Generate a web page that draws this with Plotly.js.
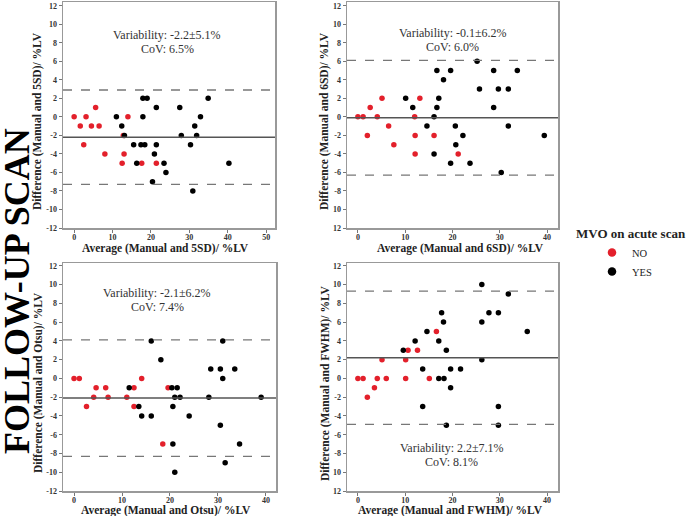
<!DOCTYPE html>
<html>
<head>
<meta charset="utf-8">
<script src="https://cdn.plot.ly/plotly-3.0.1.min.js"></script>
<style>
  body { margin: 0; background: #fff; }
  #chart { width: 688px; height: 516px; }
</style>
</head>
<body>
<div id="chart"></div>
<script>
// Bland-Altman points: red = MVO "NO", black = MVO "YES"
const sd5NoX  = [0, 1.6, 2.5, 3.1, 4.5, 5.6, 6.5, 8.0, 12.5, 12.8, 13.0, 14.0, 17.6, 21.4];
const sd5NoY  = [0, -1, -3, 0, -1, 1, -1, -4, -5, -2, -4, 0, -5, -5];
const sd5YesX = [11.0, 12.4, 13.1, 15.5, 16.3, 17.4, 17.9, 17.9, 18.4, 19.0, 21.4, 20.9, 21.4, 20.4, 23.4, 23.9, 27.5, 27.9, 30.3, 30.9, 31.4, 31.9, 32.9, 34.9, 40.3];
const sd5YesY = [0, -1, -2, -3, -5, -3, 2, 0, -3, 2, 1, -4, -3, -7, -5, -6, 1, -2, -3, -8, -1, -2, 0, 2, -5];

const sd6NoX  = [0, 1.1, 2.0, 2.6, 4.1, 5.1, 6.5, 7.6, 12.0, 12.1, 12.1, 13.1, 16.1, 21.2];
const sd6NoY  = [0, 0, -2, 1, 0, 2, -1, -3, 0, -2, -4, 2, -2, -4];
const sd6YesX = [10.1, 11.6, 14.6, 16.1, 16.1, 16.7, 16.7, 17.1, 18.1, 19.6, 19.6, 20.6, 20.7, 22.2, 23.7, 25.2, 25.7, 28.7, 28.7, 29.7, 30.3, 31.8, 31.8, 33.7, 39.4];
const sd6YesY = [2, 1, -1, 0, -4, 5, 1, 2, 4, 5, -5, -1, -3, -2, -5, 6, 3, 5, 1, 3, -6, 3, -1, 5, -2];

const otsuNoX  = [0, 1.1, 2.6, 4.1, 4.6, 6.6, 7.1, 11.0, 12.5, 12.5, 14.1, 18.5, 19.6];
const otsuNoY  = [0, 0, -3, -2, -1, -1, -2, -2, -1, -3, 0, -7, -1];
const otsuYesX = [11.5, 13.5, 14.1, 16.1, 16.1, 18.1, 20.4, 20.6, 20.6, 21.0, 21.5, 21.0, 22.1, 24.0, 28.1, 28.5, 30.5, 30.5, 31.0, 31.0, 31.5, 33.5, 34.5, 39.0];
const otsuYesY = [-1, -3, -4, 4, -4, 2, -1, -3, -7, -2, -1, -10, -2, -4, -2, 1, 1, -5, 4, 0, -9, 1, -7, -2];

const fwhmNoX  = [0, 1.1, 2.0, 3.5, 4.1, 5.1, 6.0, 10.1, 10.1, 10.6, 12.6, 15.1, 16.6];
const fwhmNoY  = [0, 0, -2, -1, 0, 2, 0, 2, 0, 3, 3, 0, 5];
const fwhmYesX = [9.6, 12.1, 13.7, 13.7, 14.6, 17.1, 17.1, 17.7, 18.1, 18.2, 18.7, 18.7, 19.6, 19.6, 21.7, 26.2, 26.2, 26.2, 27.7, 29.7, 29.7, 29.7, 31.8, 35.8];
const fwhmYesY = [3, 4, 1, -3, 5, 0, 4, 7, 6, 0, 3, -5, 1, -1, 1, 10, 6, 2, 7, 7, -3, -5, 9, 5];

// mean bias and limits of agreement per panel
const meanBias  = [-2.2, -0.1, -2.1, 2.2];
const upperLoa  = [2.9, 6.1, 4.1, 9.3];
const lowerLoa  = [-7.3, -6.3, -8.3, -4.9];
const methods   = ['5SD', '6SD', 'Otsu', 'FWHM'];
const variability = ['-2.2±5.1%', '-0.1±6.2%', '-2.1±6.2%', '2.2±7.1%'];
const cov = ['6.5%', '6.0%', '7.4%', '8.1%'];

const yTickVals = [-12, -10, -8, -6, -4, -2, 0, 2, 4, 6, 8, 10, 12];
const yTickFull = ['-12', '-10', '-8', '-6', '-4', '-2', '0', '2', '4', '6', '8', '10', '12'];
// right-hand panels lose the minus sign on the two lowest labels
const yTickCut  = ['12', '10', '-8', '-6', '-4', '-2', '0', '2', '4', '6', '8', '10', '12'];

const RED = '#e3202b';
const serif = 'Liberation Serif, DejaVu Serif, serif';

const sets = [
  [sd5NoX, sd5NoY, sd5YesX, sd5YesY],
  [sd6NoX, sd6NoY, sd6YesX, sd6YesY],
  [otsuNoX, otsuNoY, otsuYesX, otsuYesY],
  [fwhmNoX, fwhmNoY, fwhmYesX, fwhmYesY]
];

const traces = [];
sets.forEach((s, i) => {
  const xa = i === 0 ? 'x' : 'x' + (i + 1);
  const ya = i === 0 ? 'y' : 'y' + (i + 1);
  traces.push({x: s[0], y: s[1], xaxis: xa, yaxis: ya, type: 'scatter', mode: 'markers',
    marker: {color: RED, size: 5.5}, showlegend: false, hoverinfo: 'skip'});
  traces.push({x: s[2], y: s[3], xaxis: xa, yaxis: ya, type: 'scatter', mode: 'markers',
    marker: {color: '#000', size: 5.5}, showlegend: false, hoverinfo: 'skip'});
});
// legend-only entries with bigger dots
traces.push({x: [null], y: [null], type: 'scatter', mode: 'markers', name: 'NO',
  marker: {color: RED, size: 8.5}});
traces.push({x: [null], y: [null], type: 'scatter', mode: 'markers', name: 'YES',
  marker: {color: '#000', size: 8.5}});

const W = 688, H = 516;
// frame of each panel in pixels, plus where its texts sit
const boxes = [
  {l: 63, r: 275, t: 2, b: 228, xr: [-2.9, 52.3], yr: [-12, 12.4], xt: 165, yt: 38, sx: 167, sy: 35},
  {l: 347, r: 558, t: 2, b: 228, xr: [-2.3, 42.3], yr: [-12, 12.4], xt: 460, yt: 325, sx: 453, sy: 33},
  {l: 63, r: 276, t: 263, b: 491, xr: [-2.3, 42.1], yr: [-12, 12.3], xt: 166, yt: 38, sx: 157, sy: 293},
  {l: 347, r: 558, t: 263, b: 491, xr: [-2.3, 42.3], yr: [-12, 12.3], xt: 450, yt: 325, sx: 452, sy: 448}
];

const layout = {
  width: W, height: H,
  margin: {l: 0, r: 0, t: 0, b: 0},
  paper_bgcolor: '#fff', plot_bgcolor: '#fff',
  font: {family: serif, color: '#222'},
  showlegend: true,
  legend: {x: 592 / W, y: 1 - 238 / H, xanchor: 'left', yanchor: 'top',
    font: {family: serif, size: 10.5, color: '#222'}, bgcolor: 'rgba(0,0,0,0)'},
  shapes: [],
  annotations: []
};

const titleFont = {family: serif, size: 11.5, color: '#222', weight: 'bold'};
const statFont = {family: serif, size: 12, color: '#333'};

function note(px, py, text, font, angle) {
  return {xref: 'paper', yref: 'paper', x: px / W, y: 1 - py / H, xanchor: 'center', yanchor: 'middle',
    text: text, showarrow: false, font: font, textangle: angle || 0};
}

boxes.forEach((b, i) => {
  const n = i === 0 ? '' : String(i + 1);
  const axFont = {family: serif, size: 8, color: '#333', weight: 'bold'};
  layout['xaxis' + n] = {
    domain: [b.l / W, b.r / W], range: b.xr, anchor: 'y' + n,
    dtick: 10, tick0: 0, ticks: 'outside', ticklen: 3, tickcolor: '#777',
    ticklabelstandoff: -2,
    showline: true, linecolor: '#999', linewidth: 1.5, mirror: true,
    showgrid: false, zeroline: false, tickfont: axFont
  };
  layout['yaxis' + n] = {
    domain: [1 - b.b / H, 1 - b.t / H], range: b.yr, anchor: 'x' + n,
    tickvals: yTickVals, ticktext: (i % 2 === 1) ? yTickCut : yTickFull,
    ticks: 'outside', ticklen: 3, tickcolor: '#777',
    showline: true, linecolor: '#999', linewidth: 1.5, mirror: true,
    showgrid: false, zeroline: false, tickfont: axFont
  };
  const xr = 'x' + n + ' domain', yr = 'y' + n;
  layout.shapes.push({type: 'line', xref: xr, x0: 0, x1: 1, yref: yr, y0: meanBias[i], y1: meanBias[i],
    line: {color: '#555', width: 1.5}});
  [upperLoa[i], lowerLoa[i]].forEach(v => layout.shapes.push({type: 'line', xref: xr, x0: 0, x1: 1,
    yref: yr, y0: v, y1: v, line: {color: '#777', width: 1.3, dash: 'dash'}}));

  // axis titles placed as annotations
  const xtY = i < 2 ? b.b + 21 : b.b + 19;
  layout.annotations.push(note(b.xt, xtY, 'Average (Manual and ' + methods[i] + ')/ %LV', titleFont));
  layout.annotations.push(note(b.yt, (b.t + b.b) / 2 + 6, 'Difference (Manual and ' + methods[i] + ')/ %LV',
    titleFont, -90));
  // stats text
  layout.annotations.push(note(b.sx, b.sy, 'Variability: ' + variability[i], statFont));
  layout.annotations.push(note(b.sx, b.sy + 14, 'CoV: ' + cov[i], statFont));
});

layout.annotations.push(note(17, 291, 'FOLLOW-UP SCAN',
  {family: serif, size: 36, color: '#000', weight: 'bold'}, -90));
layout.annotations.push(note(631, 233, 'MVO on acute scan',
  {family: serif, size: 13, color: '#222', weight: 'bold'}));

Plotly.newPlot('chart', traces, layout, {displayModeBar: false, staticPlot: true});
</script>
</body>
</html>
